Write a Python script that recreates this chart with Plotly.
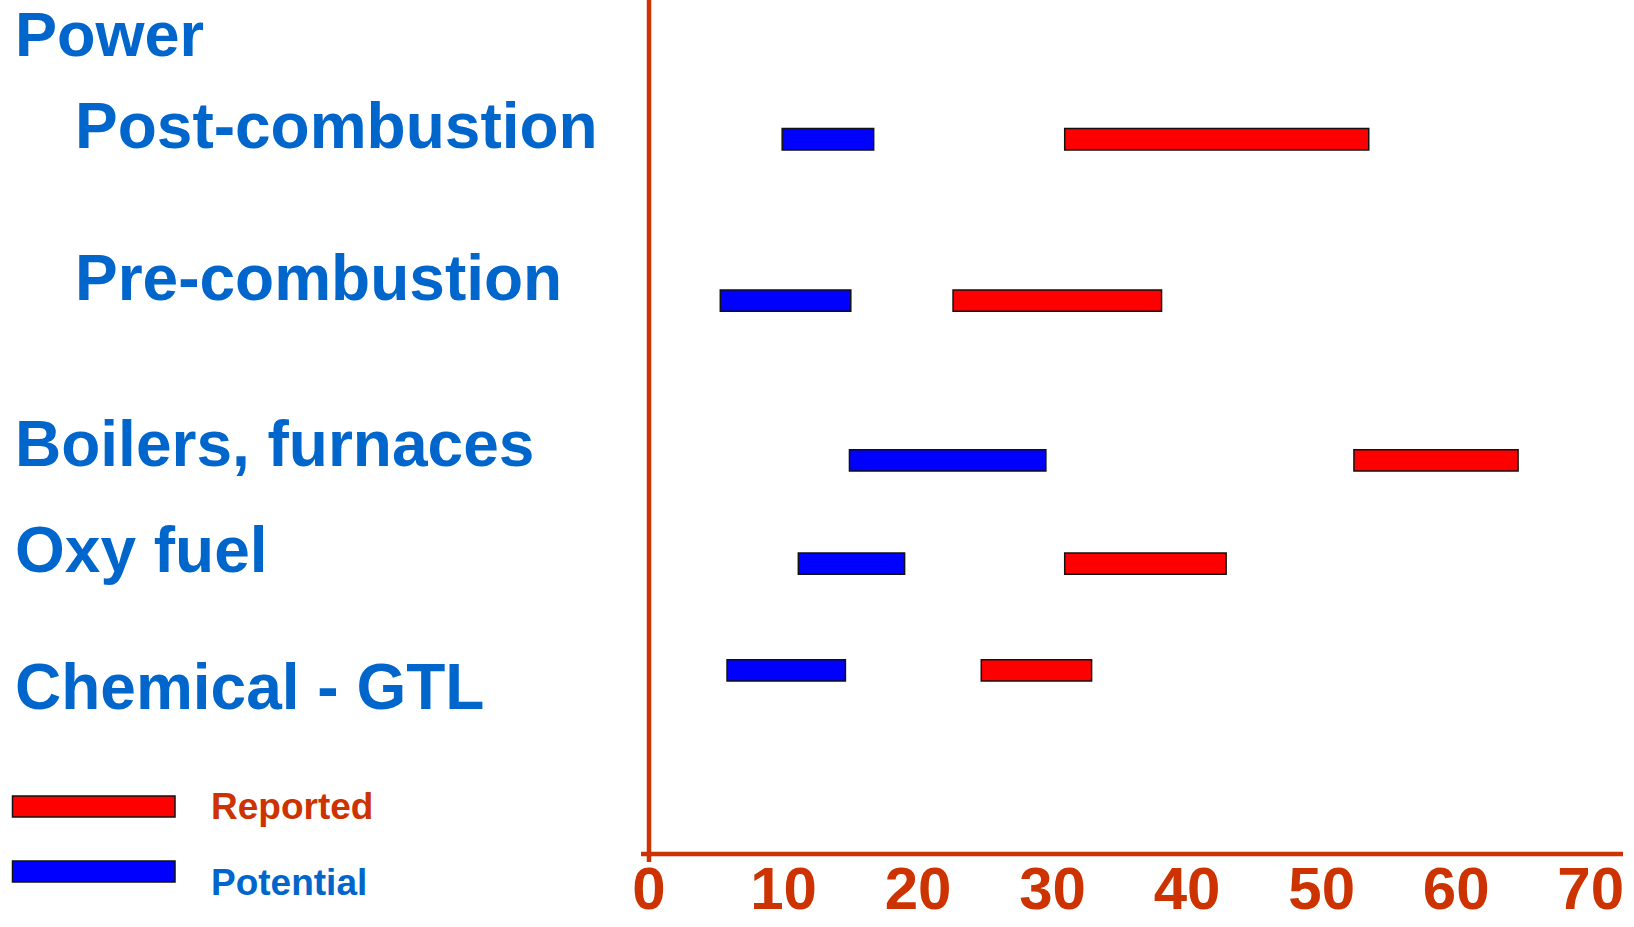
import plotly.graph_objects as go

# ---- data ----
categories = ["Post-combustion", "Pre-combustion", "Boilers, furnaces", "Oxy fuel", "Chemical - GTL"]
group_header = "Power"
reported_start = [30.9, 22.6, 52.4, 30.9, 24.7]
reported_end = [53.5, 38.1, 64.6, 42.9, 32.9]
potential_start = [9.9, 5.3, 14.9, 11.1, 5.8]
potential_end = [16.7, 15.0, 29.5, 19.0, 14.6]
tick_values = [0, 10, 20, 30, 40, 50, 60, 70]
tick_labels = ["0", "10", "20", "30", "40", "50", "60", "70"]
series_names = ["Reported", "Potential"]

# ---- layout (slide-like manual placement) ----
W, H = 1634, 927
PL, PR, PT, PB = 649, 1623, 0, 854          # plot-area pixel box
row_y = [1.63, 3.52, 5.39, 6.60, 7.85]       # row positions on hidden y axis (0 top .. 10 bottom)
label_y = [1.47, 3.25, 5.20, 6.44, 8.04]
header_y = 0.40
indent = [True, True, False, False, False]

AXIS_C = "#CC3300"
TEXT_BLUE = "#0066CC"
RED = "#FF0000"
BLUE = "#0000FF"
FONT = "Liberation Sans, Arial, sans-serif"


def px_x(p):
    return (p - PL) / (PR - PL)


def px_y(p):
    return (PB - p) / (PB - PT)


fig = go.Figure()
fig.add_trace(go.Bar(
    name=series_names[0], orientation="h",
    y=row_y, base=reported_start,
    x=[e - s for s, e in zip(reported_start, reported_end)],
    width=0.25, marker=dict(color=RED, line=dict(color="#111111", width=1.5)),
    showlegend=False, hoverinfo="skip"))
fig.add_trace(go.Bar(
    name=series_names[1], orientation="h",
    y=row_y, base=potential_start,
    x=[e - s for s, e in zip(potential_start, potential_end)],
    width=0.25, marker=dict(color=BLUE, line=dict(color="#111111", width=1.5)),
    showlegend=False, hoverinfo="skip"))

annotations = []
annotations.append(dict(text=group_header, xref="paper", yref="y", x=px_x(13), y=header_y,
                        xanchor="left", yanchor="middle", showarrow=False,
                        font=dict(family=FONT, size=63, color=TEXT_BLUE, weight="bold")))
for name, ly, ind in zip(categories, label_y, indent):
    annotations.append(dict(text=name, xref="paper", yref="y", x=px_x(73 if ind else 13), y=ly,
                            xanchor="left", yanchor="middle", showarrow=False,
                            font=dict(family=FONT, size=64, color=TEXT_BLUE, weight="bold")))

# legend (drawn manually)
shapes = []
leg_rows = [(796, 817, RED, AXIS_C, 806), (861, 882, BLUE, TEXT_BLUE, 882)]
for (y0, y1, fill, tcol, ty), nm in zip(leg_rows, series_names):
    shapes.append(dict(type="rect", xref="paper", yref="paper",
                       x0=px_x(12.5), x1=px_x(175), y0=px_y(y1), y1=px_y(y0),
                       fillcolor=fill, line=dict(color="#111111", width=1.5)))
    annotations.append(dict(text=nm, xref="paper", yref="paper", x=px_x(209), y=px_y(ty),
                            xanchor="left", yanchor="middle", showarrow=False,
                            font=dict(family=FONT, size=37, color=tcol, weight="bold")))

# axes lines
shapes.append(dict(type="line", xref="paper", yref="paper", x0=0, x1=0, y0=1.0, y1=px_y(862),
                   line=dict(color=AXIS_C, width=4.5)))
shapes.append(dict(type="line", xref="paper", yref="paper", x0=px_x(641), x1=1, y0=0, y1=0,
                   line=dict(color=AXIS_C, width=4.5)))

fig.update_layout(
    width=W, height=H,
    margin=dict(l=PL, r=W - PR, t=PT, b=H - PB, pad=0),
    paper_bgcolor="white", plot_bgcolor="white",
    barmode="overlay",
    xaxis=dict(range=[0, 72.4], tickvals=tick_values, ticktext=tick_labels,
               showgrid=False, zeroline=False, showline=False, ticks="",
               tickfont=dict(family=FONT, size=60, color=AXIS_C, weight="bold"),
               ticklabelstandoff=-6,
               automargin=False, fixedrange=True),
    yaxis=dict(range=[10, 0], showgrid=False, zeroline=False, showline=False,
               showticklabels=False, ticks="", automargin=False, fixedrange=True),
    annotations=annotations, shapes=shapes,
    showlegend=False,
)

fig.write_html("out.html", config={"displayModeBar": False},
               post_script="document.body.style.margin='0';document.body.style.overflow='hidden';")
